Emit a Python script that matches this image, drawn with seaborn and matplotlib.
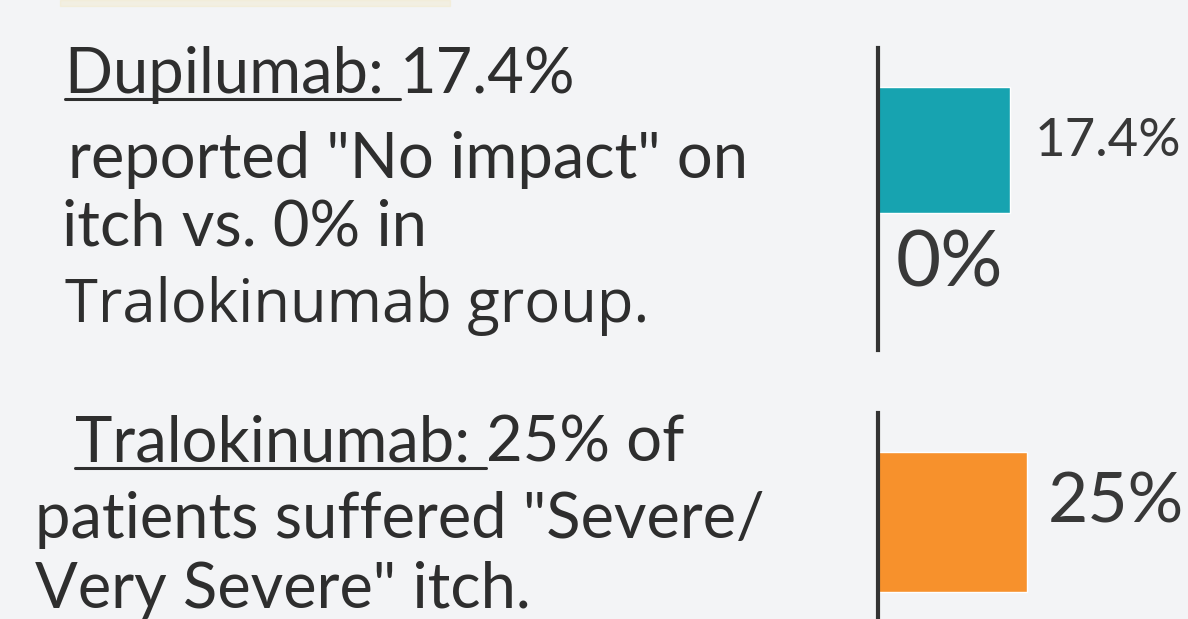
import matplotlib
matplotlib.use('Agg')
import matplotlib.pyplot as plt
import seaborn as sns
import pandas as pd
from matplotlib.lines import Line2D
from matplotlib.patches import Rectangle

sns.set_theme(style='white')
plt.rcParams['font.family'] = ['Lato', 'DejaVu Sans']

# data
top_groups = ['Dupilumab', 'Tralokinumab']
no_impact = [17.4, 0.0]
bottom_groups = ['Tralokinumab']
severe = [25.0]

heading_top = ('Dupilumab: ', '17.4%')
body_top = ['reported "No impact" on', 'itch vs. 0% in']
note_top = 'Tralokinumab group.'
heading_bottom = ('Tralokinumab: ', '25% of')
body_bottom = ['patients suffered "Severe/', 'Very Severe" itch.']

TEAL = '#17a3b0'
ORANGE = '#f7912c'
INK = '#2e2e2e'
BG = '#f3f4f6'

W, H = 1188, 619
fig = plt.figure(figsize=(W / 100, H / 100), dpi=100, facecolor=BG)


def fx(x):
    return x / W


def fy(y):
    return 1 - y / H


# faint yellow strip at the very top
fig.patches.append(Rectangle((fx(60), fy(6)), fx(390), 6 / H, transform=fig.transFigure,
                             color='#f2e6bd', alpha=0.35, zorder=0))

# left text
renderer = fig.canvas.get_renderer()
fs = 45.5


def heading(x, y, pair):
    t1 = fig.text(fx(x), fy(y), pair[0], fontsize=fs, color=INK, va='baseline', ha='left')
    bb = t1.get_window_extent(renderer)
    fig.text(bb.x1 / W, fy(y), pair[1], fontsize=fs, color=INK, va='baseline', ha='left')
    fig.add_artist(Line2D([bb.x0 / W, bb.x1 / W], [fy(y + 6), fy(y + 6)],
                          transform=fig.transFigure, color=INK, lw=2.2))


heading(65, 93, heading_top)
fig.text(fx(68), fy(178), body_top[0], fontsize=fs, color=INK, va='baseline')
fig.text(fx(62), fy(246), body_top[1], fontsize=fs, color=INK, va='baseline')
fig.text(fx(65), fy(322), note_top, fontsize=43, color=INK, va='baseline',
         family=['Open Sans', 'DejaVu Sans'], fontweight='medium')

heading(75, 462, heading_bottom)
fig.text(fx(35), fy(538), body_bottom[0], fontsize=fs, color=INK, va='baseline')
fig.text(fx(35), fy(608), body_bottom[1], fontsize=fs, color=INK, va='baseline')

# top bar chart
ax1 = fig.add_axes([fx(878), fy(350), fx(1188 - 878), (350 - 48) / H])
df_top = pd.DataFrame({'group': top_groups, 'pct': no_impact})
sns.barplot(data=df_top, x='pct', y='group', hue='group', orient='h', ax=ax1,
            palette=[TEAL, TEAL], width=1.05, legend=False, saturation=1)
ax1.set_xlim(0, 41)
ax1.set_ylim(1.666, -0.851)
label_offsets_top = [(18, 6), (13, 4)]
label_sizes_top = [38, 56]
for i, v in enumerate(no_impact):
    ax1.annotate(f'{v:g}%', xy=(v, i), xytext=label_offsets_top[i], textcoords='offset points',
                 va='center', ha='left', color='#383838',
                 fontsize=label_sizes_top[i], annotation_clip=False)

# bottom bar chart
ax2 = fig.add_axes([fx(878), 0, fx(1188 - 878), (H - 413) / H])
df_bot = pd.DataFrame({'group': bottom_groups, 'pct': severe})
sns.barplot(data=df_bot, x='pct', y='group', hue='group', orient='h', ax=ax2,
            palette=[ORANGE], width=0.8, legend=False, saturation=1)
ax2.set_xlim(0, 52)
ax2.set_ylim(0.551, -0.619)
for i, v in enumerate(severe):
    ax2.annotate(f'{v:g}%', xy=(v, i), xytext=(15, 14), textcoords='offset points',
                 va='center', ha='left', color='#383838',
                 fontsize=50, annotation_clip=False)

for ax in (ax1, ax2):
    ax.set_facecolor('none')
    for side in ('top', 'right', 'bottom'):
        ax.spines[side].set_visible(False)
    ax.spines['left'].set_color('#333333')
    ax.spines['left'].set_linewidth(3)
    ax.set_xticks([])
    ax.set_yticks([])
    ax.set_xlabel('')
    ax.set_ylabel('')

fig.savefig('out.png', dpi=100, facecolor=BG)
